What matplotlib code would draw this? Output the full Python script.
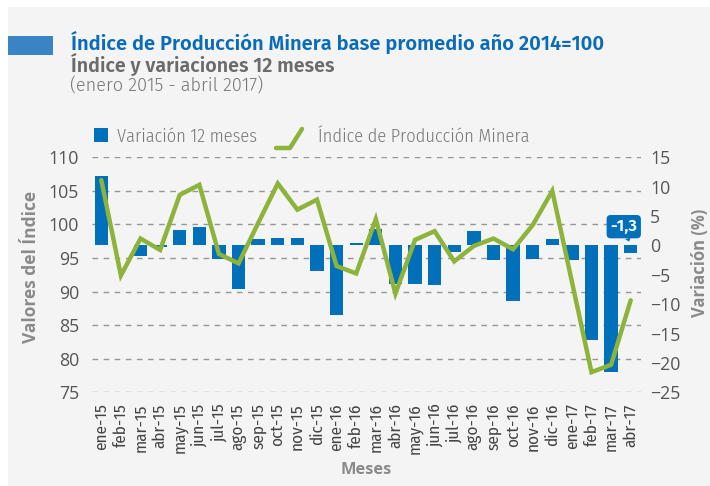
import matplotlib
matplotlib.use("Agg")
import matplotlib.pyplot as plt
from matplotlib.patches import Rectangle
from matplotlib.lines import Line2D

# ---- data ----
meses = ["ene-15", "feb-15", "mar-15", "abr-15", "may-15", "jun-15", "jul-15",
         "ago-15", "sep-15", "oct-15", "nov-15", "dic-15", "ene-16", "feb-16",
         "mar-16", "abr-16", "may-16", "jun-16", "jul-16", "ago-16", "sep-16",
         "oct-16", "nov-16", "dic-16", "ene-17", "feb-17", "mar-17", "abr-17"]
variacion_12m = [11.9, 0.1, -1.8, -0.3, 2.6, 3.2, -2.3, -7.5, 1.1, 1.2, 1.2, -4.3,
                 -11.8, 0.4, 2.8, -6.6, -6.6, -6.8, -1.1, 2.4, -2.5, -9.4, -2.3,
                 1.1, -2.5, -16.1, -21.5, -1.3]
indice_ipm = [106.6, 92.4, 97.9, 96.2, 104.4, 105.9, 95.6, 94.2, 100.2, 106.1,
              102.2, 103.7, 93.8, 92.7, 100.8, 89.7, 97.7, 99.0, 94.5, 96.8,
              97.9, 96.3, 99.9, 105.0, 91.5, 78.0, 79.1, 88.7]
left_ticks = [75, 80, 85, 90, 95, 100, 105, 110]
right_ticks = [-25, -20, -15, -10, -5, 0, 5, 10, 15]

# ---- style ----
W, H = 710, 486
BLUE = "#0070bb"
GREEN = "#8db33a"
COND = ["Fira Sans Condensed", "DejaVu Sans"]
FIRA = ["Fira Sans", "DejaVu Sans"]
OPEN = ["Open Sans", "DejaVu Sans"]

def fx(x):
    return x / W

def fy(y):
    return 1 - y / H

fig = plt.figure(figsize=(W / 100, H / 100), dpi=100, facecolor="white")
fig.add_artist(Rectangle((fx(8), 0), 1 - fx(8), fy(7), transform=fig.transFigure,
                         facecolor="#f4f4f4", edgecolor="none", zorder=-10))
fig.add_artist(Rectangle((fx(8), fy(55)), fx(53) - fx(8), fy(36) - fy(55),
                         transform=fig.transFigure, facecolor="#3a83c5",
                         edgecolor="none"))

fig.text(fx(71), fy(50), "Índice de Producción Minera base promedio año 2014=100",
         family=FIRA, fontweight=600, fontsize=14.5, color="#0a6cb9",
         va="baseline")
fig.text(fx(71), fy(71.5), "Índice y variaciones 12 meses", family=FIRA,
         fontweight=600, fontsize=14.2, color="#6b6b6b", va="baseline")
fig.text(fx(70), fy(91.5), "(enero 2015 - abril 2017)", family=FIRA,
         fontweight=300, fontsize=13.1, color="#777777", va="baseline")

# legend
fig.add_artist(Rectangle((fx(94), fy(142)), fx(108) - fx(94), fy(128) - fy(142),
                         transform=fig.transFigure, facecolor=BLUE,
                         edgecolor="none"))
fig.text(fx(117), fy(141.7), "Variación 12 meses", family=COND, fontweight=300,
         fontsize=13.2, color="#777777", va="baseline")
fig.add_artist(Line2D([fx(276), fx(290), fx(302)], [fy(148), fy(148), fy(129)],
                      transform=fig.transFigure, color=GREEN, lw=3.2,
                      solid_capstyle="round", solid_joinstyle="round"))
fig.text(fx(318), fy(141.7), "Índice de Producción Minera", family=COND,
         fontweight=300, fontsize=13.2, color="#777777", va="baseline")

# axes
left, right, top, bottom = 91.5, 640.5, 157.3, 392.3
rect = [fx(left), fy(bottom), fx(right) - fx(left), fy(top) - fy(bottom)]
ax1 = fig.add_axes(rect)
ax1.set_facecolor("none")
x = list(range(len(meses)))
ax1.set_xlim(-0.5, len(meses) - 0.5)
ax1.set_ylim(75, 110)
ax1.set_yticks(left_ticks)
ax1.grid(axis="y", color="#959595", linestyle=(0, (4, 4)), linewidth=1.0)
ax1.set_axisbelow(True)
for s in ax1.spines.values():
    s.set_visible(False)
ax1.tick_params(axis="y", length=0, pad=9, labelsize=12.8, labelcolor="#555555")
ax1.tick_params(axis="x", length=0, pad=8, labelsize=12.3, labelcolor="#444444")
ax1.set_xticks(x)
ax1.set_xticklabels(meses, rotation=90, family=COND)
for t in ax1.get_yticklabels():
    t.set_family(OPEN)
ax1.set_ylabel("Valores del Índice", family=OPEN, fontweight="bold",
               fontsize=12.5, color="#8a8a8a")
ax1.yaxis.set_label_coords((39.5 - left) / (right - left), (bottom - 267) / (bottom - top))
ax1.set_xlabel("Meses", family=OPEN, fontweight="bold", fontsize=11.8, color="#8a8a8a")
ax1.xaxis.set_label_coords(0.5, (bottom - 462) / (bottom - top))

ax2 = ax1.twinx()
ax2.set_facecolor("none")
ax2.set_ylim(-25, 15)
ax2.set_yticks(right_ticks)
ax2.bar(x, variacion_12m, width=0.68, color=BLUE, zorder=2)
for s in ax2.spines.values():
    s.set_visible(False)
ax2.tick_params(axis="y", length=0, pad=7, labelsize=12.8, labelcolor="#555555")
for t in ax2.get_yticklabels():
    t.set_family(OPEN)
ax2.set_ylabel("Variación (%)", family=OPEN, fontweight="bold", fontsize=12,
               color="#8a8a8a")
ax2.yaxis.set_label_coords((691.5 - left) / (right - left), (bottom - 262.5) / (bottom - top))

last = len(meses) - 1
lbl = f"{variacion_12m[last]:.1f}".replace(".", ",")
ax2.annotate(lbl, xy=(last, 0), xytext=(-5, 13.5), textcoords="offset points",
             ha="center", va="center", family=FIRA, fontweight=600,
             fontsize=12, color="white",
             bbox=dict(boxstyle="round,pad=0.22,rounding_size=0.25", fc=BLUE, ec="none"),
             arrowprops=dict(arrowstyle="wedge,tail_width=0.35", fc=BLUE, ec="none",
                             relpos=(0.6, 0.0), shrinkA=0, shrinkB=3),
             zorder=5)

ax3 = ax1.twinx()
ax3.set_facecolor("none")
ax3.set_ylim(75, 110)
ax3.plot(x, indice_ipm, color=GREEN, lw=3.2, solid_joinstyle="miter",
         solid_capstyle="round", zorder=3)
ax3.set_yticks([])
for s in ax3.spines.values():
    s.set_visible(False)

fig.savefig("out.png", dpi=100, facecolor="white")
